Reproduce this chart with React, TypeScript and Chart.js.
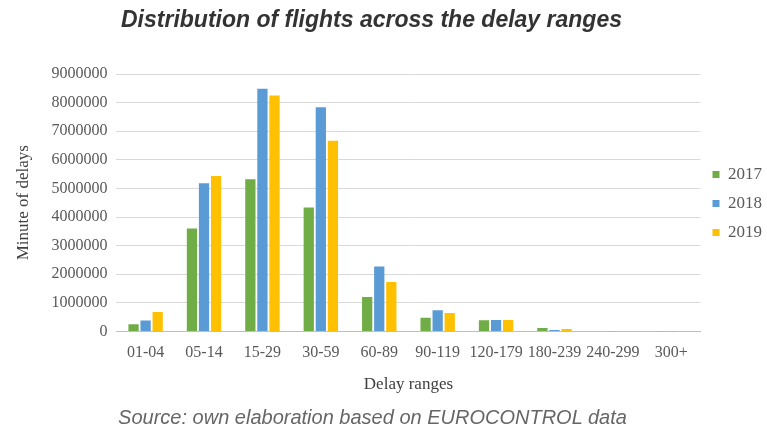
import React, { useEffect, useRef } from "react";
import { Chart, registerables } from "chart.js";

Chart.register(...registerables);

const categories = ["01-04", "05-14", "15-29", "30-59", "60-89", "90-119", "120-179", "180-239", "240-299", "300+"];
const values2017 = [250000, 3600000, 5320000, 4330000, 1200000, 480000, 390000, 120000, 10000, 5000];
const values2018 = [380000, 5180000, 8480000, 7840000, 2270000, 740000, 400000, 50000, 5000, 2000];
const values2019 = [680000, 5430000, 8250000, 6670000, 1730000, 640000, 400000, 80000, 5000, 2000];
const seriesLabels = ["2017", "2018", "2019"];
const seriesColors = ["#70AD47", "#5B9BD5", "#FFC000"];

const titleText = "Distribution of flights across the delay ranges";
const captionText = "Source: own elaboration based on EUROCONTROL data";

export default function App() {
  const ref = useRef<HTMLCanvasElement>(null);
  useEffect(() => {
    document.body.style.margin = "0";
    const serif = "'Liberation Serif', 'Times New Roman', serif";
    const chart = new Chart(ref.current!, {
      type: "bar",
      data: {
        labels: categories,
        datasets: [values2017, values2018, values2019].map((d, i) => ({
          label: seriesLabels[i],
          data: d,
          backgroundColor: seriesColors[i],
          borderWidth: 0,
          categoryPercentage: 0.62,
          barPercentage: 0.85,
        })),
      },
      options: {
        animation: false,
        responsive: false,
        maintainAspectRatio: false,
        layout: { padding: { top: 74, bottom: 37, left: 13, right: -5 } },
        plugins: {
          tooltip: { enabled: false },
          legend: {
            position: "right",
            align: "start",
            title: {
              display: true,
              text: " ",
              font: { family: serif, size: 10 },
              padding: { top: 68, bottom: 0 },
            },
            labels: {
              boxWidth: 7,
              boxHeight: 7,
              padding: 12,
              color: "#595959",
              font: { family: serif, size: 17 },
            },
          },
        },
        scales: {
          x: {
            grid: { display: false },
            border: { color: "#bfbfbf", width: 1 },
            ticks: {
              color: "#595959",
              font: { family: serif, size: 16 },
              maxRotation: 0,
              minRotation: 0,
              autoSkip: false,
              padding: 4,
            },
            title: {
              display: true,
              text: "Delay ranges",
              color: "#404040",
              font: { family: serif, size: 17 },
              padding: { top: 8, bottom: 0 },
            },
          },
          y: {
            min: 0,
            max: 9000000,
            grid: { color: "#d9d9d9", drawTicks: false },
            border: { display: false },
            ticks: {
              stepSize: 1000000,
              color: "#595959",
              font: { family: serif, size: 16 },
              padding: 9,
              callback: (v: any) => String(v),
            },
            title: {
              display: true,
              text: "Minute of delays",
              color: "#404040",
              font: { family: serif, size: 17 },
              padding: { top: 0, bottom: 9 },
            },
          },
        },
      },
    });
    return () => chart.destroy();
  }, []);

  return (
    <div style={{ position: "relative", width: 767, height: 432, background: "#fff" }}>
      <canvas ref={ref} width={767} height={432} style={{ position: "absolute", left: 0, top: 0 }} />
      <div
        style={{
          position: "absolute",
          left: 0,
          top: 6,
          width: 743,
          textAlign: "center",
          fontFamily: "'Liberation Sans', Arial, sans-serif",
          fontStyle: "italic",
          fontWeight: "bold",
          fontSize: 23,
          color: "#333",
        }}
      >
        {titleText}
      </div>
      <div
        style={{
          position: "absolute",
          left: 0,
          top: 406,
          width: 745,
          textAlign: "center",
          fontFamily: "'Liberation Sans', Arial, sans-serif",
          fontStyle: "italic",
          fontSize: 20,
          color: "#666",
        }}
      >
        {captionText}
      </div>
    </div>
  );
}
